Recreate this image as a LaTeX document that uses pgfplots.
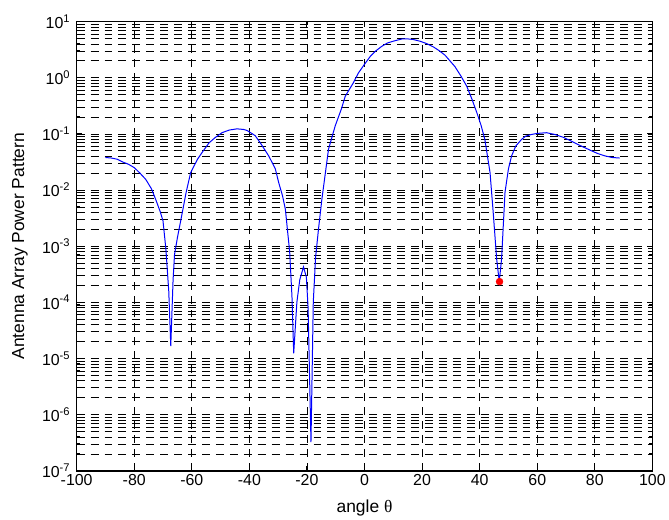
\documentclass[border=0pt]{standalone}
\usepackage{fontspec}
\setmainfont{Liberation Sans}
\newfontfamily\seriffont{Liberation Serif}
\usepackage{pgfplots}
\pgfplotsset{compat=1.18}
\begin{document}
\begin{tikzpicture}
\begin{axis}[
 name=ax,
 scale only axis,
 width=578.5bp, height=451.3bp,
 xmin=-100, xmax=100, ymin=1e-7, ymax=1e1,
 ymode=log,
 xtick={-100,-80,-60,-40,-20,0,20,40,60,80,100},
 xticklabels={-100,-80,-60,-40,-20,0,20,40,60,80,100},
 ytick={1e-7,1e-6,1e-5,1e-4,1e-3,1e-2,1e-1,1e0,1e1},
 yticklabels={10\textsuperscript{-7},10\textsuperscript{-6},10\textsuperscript{-5},10\textsuperscript{-4},10\textsuperscript{-3},10\textsuperscript{-2},10\textsuperscript{-1},10\textsuperscript{0},10\textsuperscript{1}},
 minor ytick={2e-7,3e-7,4e-7,5e-7,6e-7,7e-7,8e-7,9e-7,
   2e-6,3e-6,4e-6,5e-6,6e-6,7e-6,8e-6,9e-6,
   2e-5,3e-5,4e-5,5e-5,6e-5,7e-5,8e-5,9e-5,
   2e-4,3e-4,4e-4,5e-4,6e-4,7e-4,8e-4,9e-4,
   2e-3,3e-3,4e-3,5e-3,6e-3,7e-3,8e-3,9e-3,
   2e-2,3e-2,4e-2,5e-2,6e-2,7e-2,8e-2,9e-2,
   2e-1,3e-1,4e-1,5e-1,6e-1,7e-1,8e-1,9e-1,
   2,3,4,5,6,7,8,9},
 minor xtick={},
 grid=both,
 major grid style={black, line width=0.7bp, dash pattern=on 8bp off 6bp},
 minor grid style={black, line width=0.7bp, dash pattern=on 8bp off 6bp},
 axis line style={black, line width=1.5bp},
 major tick style={black, line width=1bp},
 minor tick style={black, line width=1bp},
 major tick length=5bp,
 minor tick length=3.5bp,
 tick label style={font=\fontsize{16bp}{19bp}\selectfont},
 yticklabel style={xshift=-3bp},
 label style={font=\fontsize{17.5bp}{21bp}\selectfont},
 xlabel={angle {\seriffont θ}},
 ylabel={Antenna Array Power Pattern},
 xlabel style={at={(axis description cs:0.5,-0.082)}, anchor=center},
 ylabel style={at={(axis description cs:-0.0985,0.5)}, anchor=center},
]
\addplot[blue, line width=1bp] coordinates {
(-90,0.0380) (-88,0.0372) (-86,0.0355) (-84,0.0316) (-82,0.0288) (-80,0.0251)
(-78,0.0200) (-76,0.0155) (-74,0.0105) (-72.6,0.00692) (-71,0.00417) (-70,0.00282)
(-69,0.000891) (-68,0.000158) (-67.3,1.66e-5) (-66.5,2.51e-4) (-66,7.08e-4)
(-65,0.00141) (-63.3,0.00398) (-62,0.00891) (-60.4,0.0204) (-58,0.0355)
(-56.4,0.0468) (-54,0.0692) (-52,0.0851) (-49.5,0.105) (-47,0.117) (-44.3,0.123)
(-42,0.120) (-40.8,0.115) (-38,0.0933) (-36.2,0.0692) (-33.3,0.0407) (-31,0.0240)
(-29.8,0.0135) (-28.5,0.00794) (-27.5,0.00457) (-26,7.94e-4) (-25.2,1.26e-4)
(-24.6,1.23e-5) (-23.5,1e-4) (-22.5,2.51e-4) (-21.2,4.27e-4) (-20.2,2.82e-4)
(-19.6,7.94e-5) (-18.6,3.24e-7) (-17.8,1e-4) (-17,6.31e-4) (-16,0.002)
(-14.8,0.00692) (-12.5,0.0537) (-10.2,0.138) (-8,0.282) (-6.7,0.468) (-4,0.794)
(-2.1,1.22) (0,1.74) (2,2.40) (3.7,2.95) (6,3.63) (8,4.17) (10.6,4.57) (13,4.90)
(15.3,4.90) (17,4.79) (19.3,4.47) (21.5,4.07) (23.9,3.55) (26,3.02) (28,2.51)
(31.4,1.58) (33.5,1.07) (35.5,0.708) (37.3,0.417) (39,0.240) (40.5,0.141)
(41.8,0.0794) (43.6,0.0204) (44.7,0.00398) (45.9,5.89e-4) (46.8,2.34e-4)
(47.6,5.89e-4) (48.8,0.00912) (50,0.024) (51.1,0.0407) (52.5,0.0603) (54.5,0.0794)
(56,0.0912) (58,0.0977) (60,0.102) (63.2,0.105) (66.1,0.0977) (69,0.0871)
(71.9,0.0741) (75,0.0617) (78.8,0.0501) (81,0.0447) (83.4,0.0407) (86,0.0380)
(88.6,0.0372)
};
\addplot[only marks, mark=*, red, mark size=3.5bp] coordinates {(46.9,2.34e-4)};
\end{axis}
\path ([xshift=-77bp,yshift=-49bp]ax.south west) rectangle ([xshift=13.5bp,yshift=21.7bp]ax.north east);
\end{tikzpicture}
\end{document}
